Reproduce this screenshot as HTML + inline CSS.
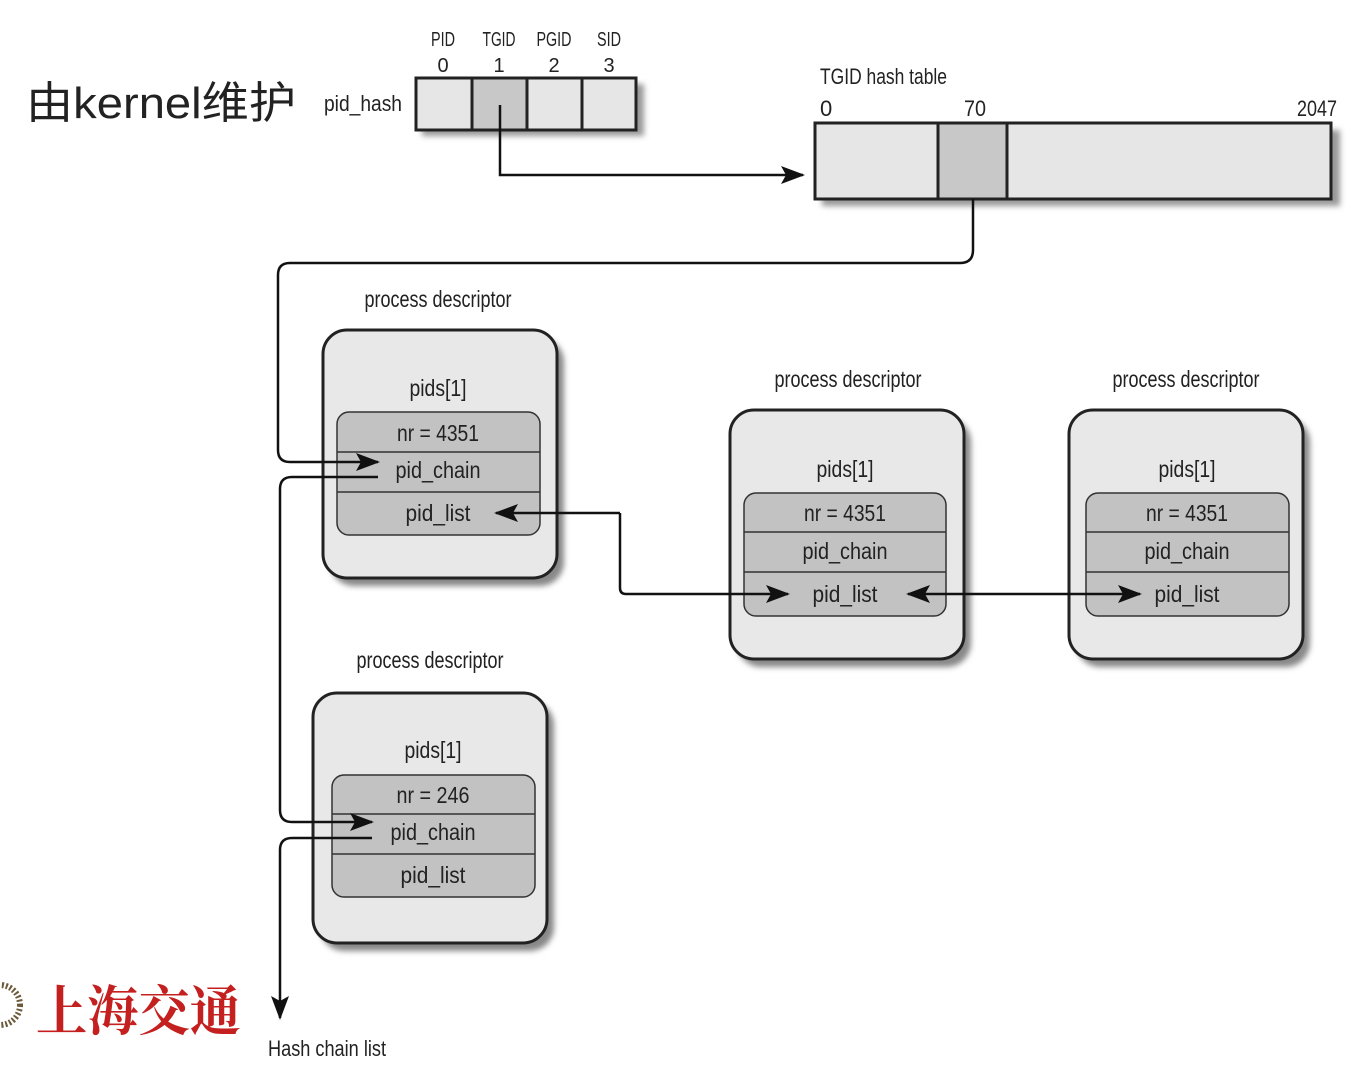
<!DOCTYPE html>
<html><head><meta charset="utf-8"><style>
html,body{margin:0;padding:0;background:#fff;width:1360px;height:1066px;overflow:hidden}
text{font-family:"Liberation Sans Narrow","Liberation Sans",sans-serif;fill:#222}
</style></head><body>
<svg width="1360" height="1066" viewBox="0 0 1360 1066" xmlns="http://www.w3.org/2000/svg">
<defs>
<marker id="b" markerWidth="24" markerHeight="18" refX="22" refY="9" orient="auto" markerUnits="userSpaceOnUse"><path d="M0,0 L24,9 L0,18 L5,9 Z" fill="#111"/></marker>
<filter id="s" x="-10%" y="-10%" width="130%" height="130%"><feGaussianBlur stdDeviation="3"/></filter>
</defs>
<text x="26" y="118" style="font-family:'Liberation Sans','Noto Sans CJK SC',sans-serif" font-size="44" fill="#000" textLength="270" lengthAdjust="spacingAndGlyphs">由kernel维护</text>
<text x="324" y="111" font-size="22" textLength="78" lengthAdjust="spacingAndGlyphs">pid_hash</text>
<g font-size="20" text-anchor="middle">
<text x="443" y="46" textLength="24" lengthAdjust="spacingAndGlyphs">PID</text><text x="443" y="72">0</text>
<text x="499" y="46" textLength="33" lengthAdjust="spacingAndGlyphs">TGID</text><text x="499" y="72">1</text>
<text x="554" y="46" textLength="35" lengthAdjust="spacingAndGlyphs">PGID</text><text x="554" y="72">2</text>
<text x="609" y="46" textLength="24" lengthAdjust="spacingAndGlyphs">SID</text><text x="609" y="72">3</text>
</g>
<rect x="422" y="84" width="222" height="52" fill="#999" filter="url(#s)"/>
<rect x="416" y="78" width="220" height="52" fill="#e6e6e6" stroke="#222" stroke-width="3"/>
<rect x="472" y="78" width="55" height="52" fill="#c8c8c8" stroke="#222" stroke-width="3"/>
<line x1="582" y1="78" x2="582" y2="130" stroke="#222" stroke-width="3"/>
<text x="820" y="84" font-size="22" textLength="127" lengthAdjust="spacingAndGlyphs">TGID hash table</text>
<text x="820" y="116" font-size="22">0</text>
<text x="964" y="116" font-size="22" textLength="22" lengthAdjust="spacingAndGlyphs">70</text>
<text x="1297" y="116" font-size="22" textLength="40" lengthAdjust="spacingAndGlyphs">2047</text>
<rect x="822" y="130" width="518" height="76" fill="#999" filter="url(#s)"/>
<rect x="815" y="123" width="516" height="76" fill="#e6e6e6" stroke="#222" stroke-width="3"/>
<rect x="938" y="123" width="69" height="76" fill="#c8c8c8" stroke="#222" stroke-width="3"/>
<path d="M500,105 V175 H803" fill="none" stroke="#111" stroke-width="2.5" marker-end="url(#b)"/>
<g>
<rect x="330" y="338" width="234" height="248" rx="24" fill="#888" filter="url(#s)"/>
<rect x="323" y="330" width="234" height="248" rx="24" fill="#e8e8e8" stroke="#222" stroke-width="3"/>
<rect x="337" y="412" width="203" height="123" rx="12" fill="#c2c2c2" stroke="#333" stroke-width="1.5"/>
<line x1="337" y1="452" x2="540" y2="452" stroke="#333" stroke-width="1.5"/><line x1="337" y1="492" x2="540" y2="492" stroke="#333" stroke-width="1.5"/>
<rect x="737" y="418" width="234" height="249" rx="24" fill="#888" filter="url(#s)"/>
<rect x="730" y="410" width="234" height="249" rx="24" fill="#e8e8e8" stroke="#222" stroke-width="3"/>
<rect x="744" y="493" width="202" height="123" rx="12" fill="#c2c2c2" stroke="#333" stroke-width="1.5"/>
<line x1="744" y1="532" x2="946" y2="532" stroke="#333" stroke-width="1.5"/><line x1="744" y1="572" x2="946" y2="572" stroke="#333" stroke-width="1.5"/>
<rect x="1076" y="418" width="234" height="249" rx="24" fill="#888" filter="url(#s)"/>
<rect x="1069" y="410" width="234" height="249" rx="24" fill="#e8e8e8" stroke="#222" stroke-width="3"/>
<rect x="1086" y="493" width="203" height="123" rx="12" fill="#c2c2c2" stroke="#333" stroke-width="1.5"/>
<line x1="1086" y1="532" x2="1289" y2="532" stroke="#333" stroke-width="1.5"/><line x1="1086" y1="572" x2="1289" y2="572" stroke="#333" stroke-width="1.5"/>
<rect x="320" y="701" width="234" height="250" rx="24" fill="#888" filter="url(#s)"/>
<rect x="313" y="693" width="234" height="250" rx="24" fill="#e8e8e8" stroke="#222" stroke-width="3"/>
<rect x="332" y="775" width="203" height="122" rx="12" fill="#c2c2c2" stroke="#333" stroke-width="1.5"/>
<line x1="332" y1="814" x2="535" y2="814" stroke="#333" stroke-width="1.5"/><line x1="332" y1="854" x2="535" y2="854" stroke="#333" stroke-width="1.5"/>
</g>
<g font-size="23" text-anchor="middle" lengthAdjust="spacingAndGlyphs">
<text x="438" y="307" textLength="147" lengthAdjust="spacingAndGlyphs">process descriptor</text>
<text x="848" y="387" textLength="147" lengthAdjust="spacingAndGlyphs">process descriptor</text>
<text x="1186" y="387" textLength="147" lengthAdjust="spacingAndGlyphs">process descriptor</text>
<text x="430" y="668" textLength="147" lengthAdjust="spacingAndGlyphs">process descriptor</text>
<text x="438" y="396" textLength="57" lengthAdjust="spacingAndGlyphs">pids[1]</text><text x="438" y="441" textLength="82" lengthAdjust="spacingAndGlyphs">nr = 4351</text><text x="438" y="478" textLength="85" lengthAdjust="spacingAndGlyphs">pid_chain</text><text x="438" y="521" textLength="65" lengthAdjust="spacingAndGlyphs">pid_list</text>
<text x="845" y="477" textLength="57" lengthAdjust="spacingAndGlyphs">pids[1]</text><text x="845" y="521" textLength="82" lengthAdjust="spacingAndGlyphs">nr = 4351</text><text x="845" y="559" textLength="85" lengthAdjust="spacingAndGlyphs">pid_chain</text><text x="845" y="602" textLength="65" lengthAdjust="spacingAndGlyphs">pid_list</text>
<text x="1187" y="477" textLength="57" lengthAdjust="spacingAndGlyphs">pids[1]</text><text x="1187" y="521" textLength="82" lengthAdjust="spacingAndGlyphs">nr = 4351</text><text x="1187" y="559" textLength="85" lengthAdjust="spacingAndGlyphs">pid_chain</text><text x="1187" y="602" textLength="65" lengthAdjust="spacingAndGlyphs">pid_list</text>
<text x="433" y="758" textLength="57" lengthAdjust="spacingAndGlyphs">pids[1]</text><text x="433" y="803" textLength="73" lengthAdjust="spacingAndGlyphs">nr = 246</text><text x="433" y="840" textLength="85" lengthAdjust="spacingAndGlyphs">pid_chain</text><text x="433" y="883" textLength="65" lengthAdjust="spacingAndGlyphs">pid_list</text>
</g>
<g fill="none" stroke="#111" stroke-width="2.5">
<path d="M973,199 V250 Q973,263 960,263 H290 Q278,263 278,275 V450 Q278,462 290,462 H378" marker-end="url(#b)"/>
<path d="M378,477 H292 Q280,477 280,489 V810 Q280,822 292,822 H372" marker-end="url(#b)"/>
<path d="M372,838 H292 Q280,838 280,850 V1018" marker-end="url(#b)"/>
<path d="M620,513 H496" marker-end="url(#b)"/>
<path d="M620,513 V588 Q620,594 626,594 H788" marker-end="url(#b)"/>
<path d="M1000,594 H908" marker-end="url(#b)"/>
<path d="M1000,594 H1140" marker-end="url(#b)"/>
</g>
<text x="268" y="1056" font-size="22" textLength="118" lengthAdjust="spacingAndGlyphs">Hash chain list</text>
<circle cx="0" cy="1005" r="20" fill="none" stroke="#6b5a3a" stroke-width="6" stroke-dasharray="2 2"/>
<text x="36" y="1030" font-size="54" textLength="205" lengthAdjust="spacingAndGlyphs" style="font-family:'Noto Serif CJK SC','WenQuanYi Zen Hei',serif;fill:#c42020;font-weight:bold">上海交通</text>
</svg>
</body></html>
